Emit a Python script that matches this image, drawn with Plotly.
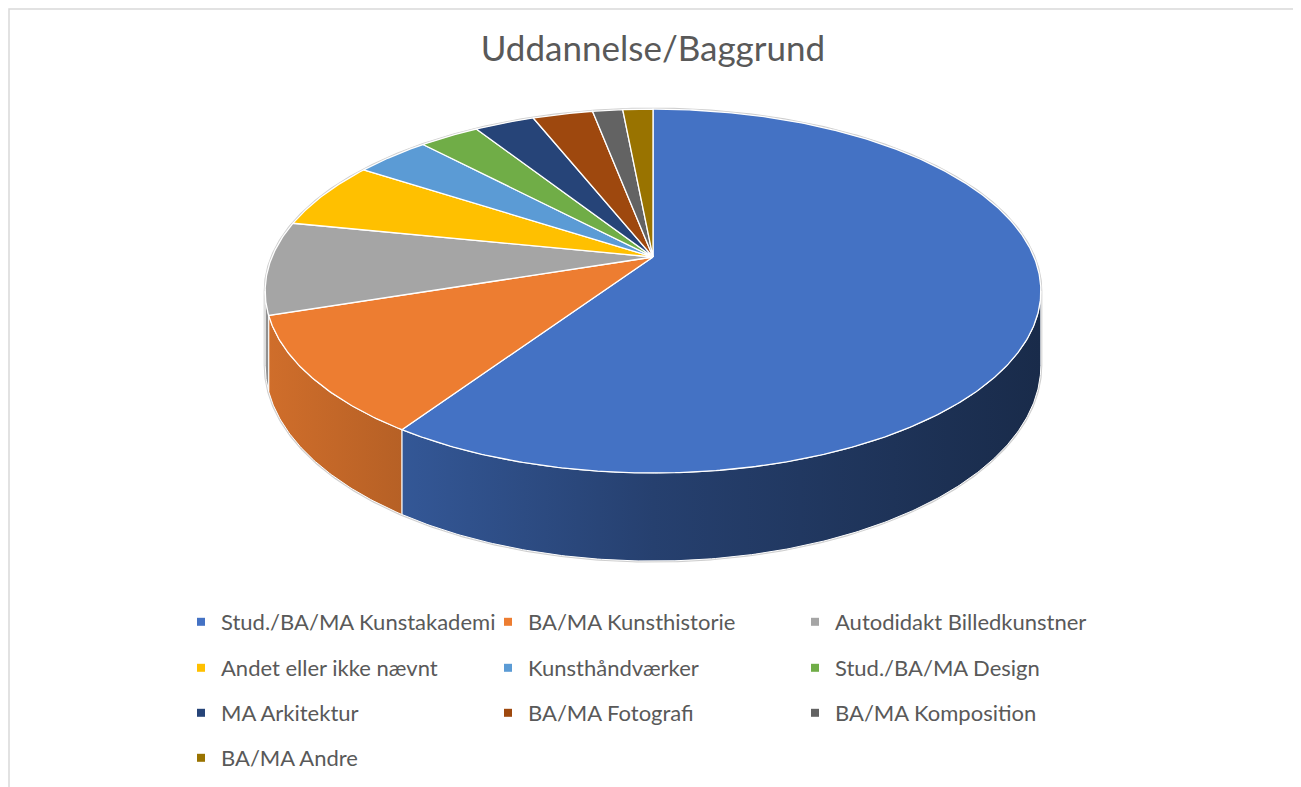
import numpy as np
import plotly.graph_objects as go

# ---------------- data ----------------
categories = ["Stud./BA/MA Kunstakademi", "BA/MA Kunsthistorie", "Autodidakt Billedkunstner",
              "Andet eller ikke nævnt", "Kunsthåndværker", "Stud./BA/MA Design",
              "MA Arkitektur", "BA/MA Fotografi", "BA/MA Komposition", "BA/MA Andre"]
values = [79, 14, 11, 8, 5, 4, 4, 4, 2, 2]
colors = ["#4472C4", "#ED7D31", "#A5A5A5", "#FFC000", "#5B9BD5", "#70AD47",
          "#264478", "#9E480E", "#636363", "#997300"]
title_text = "Uddannelse/Baggrund"

# ---------------- geometry (layout of the 3D pie) ----------------
W, H = 1301, 787
OFF = 8                        # page margin of the html body
CX, CY = 653.0, 257.0          # pie centre on screen
A, B, K = 381.0, 175.6, 0.187  # horizontal / vertical radius, perspective factor
DEPTH = 71.6                   # thickness of the pie
A_EXT = A / np.sqrt(1 - K * K)
VIS0 = np.degrees(np.arccos(-K))   # right silhouette angle (clockwise from top)
VIS1 = 360 - VIS0                  # left silhouette angle


def px(x):
    return (x - OFF) / W


def py(y):
    return 1 - (y - OFF) / H


def top_pt(theta):
    t = np.radians(theta)
    u, v = np.sin(t), -np.cos(t)
    w = 1 - K * v
    return CX + A * u / w, CY + B * v / w, w


def bot_pt(theta):
    x, y, w = top_pt(theta)
    return x, y + DEPTH / w


def shade(hexc, f):
    hexc = hexc.lstrip("#")
    r, g, b = (int(hexc[i:i + 2], 16) for i in (0, 2, 4))
    return "rgb(%d,%d,%d)" % (r * f, g * f, b * f)


def arc(a, b, fn):
    n = max(3, int(abs(b - a) * 2) + 1)
    th = np.linspace(a, b, n)
    xs, ys = [], []
    for t in th:
        p = fn(t)
        xs.append(p[0]); ys.append(p[1])
    return xs, ys


total = float(sum(values))
angles = np.cumsum([0] + [v / total * 360 for v in values])

fig = go.Figure()

# outline of the whole pie (light grey rim)
xo, yo = arc(VIS1 - 360, VIS0, top_pt)
xb, yb = arc(VIS0, VIS1, bot_pt)
fig.add_trace(go.Scatter(x=xo + xb + [xo[0]], y=yo + yb + [yo[0]], mode="lines",
                         line=dict(color="#cfcfcf", width=3), hoverinfo="skip",
                         showlegend=False))

# side walls
for i, (cat, col) in enumerate(zip(categories, colors)):
    a, b = angles[i], angles[i + 1]
    a2, b2 = max(a, VIS0), min(b, VIS1)
    if b2 <= a2:
        continue
    xt, yt = arc(a2, b2, top_pt)
    xbb, ybb = arc(b2, a2, bot_pt)
    fig.add_trace(go.Scatter(
        x=xt + xbb + [xt[0]], y=yt + ybb + [yt[0]], mode="lines", fill="toself",
        fillcolor=shade(col, 0.6),
        fillgradient=dict(type="horizontal", start=CX - A_EXT, stop=CX + A_EXT,
                          colorscale=[[0, shade(col, 0.88)], [0.5, shade(col, 0.57)],
                                      [1, shade(col, 0.38)]]),
        line=dict(color="white", width=1), hoverinfo="skip", showlegend=False))

# top surfaces
for i, (cat, col) in enumerate(zip(categories, colors)):
    a, b = angles[i], angles[i + 1]
    xa, ya = arc(a, b, top_pt)
    fig.add_trace(go.Scatter(
        x=[CX] + xa + [CX], y=[CY] + ya + [CY], mode="lines", fill="toself",
        fillcolor=col, line=dict(color="white", width=1.3),
        name=cat, text=f"{cat}: {values[i]}", hoverinfo="text", showlegend=False))

# legend entries (4 rows of 3)
row_y = [622, 668, 713, 758]
legend_names = ["legend", "legend2", "legend3", "legend4"]
for i, (cat, col) in enumerate(zip(categories, colors)):
    fig.add_trace(go.Scatter(
        x=[None], y=[None], mode="markers", name=cat,
        marker=dict(symbol="square", size=8, color=col),
        legend=legend_names[i // 3], showlegend=True))

layout_legends = {}
for r, ln in enumerate(legend_names):
    layout_legends[ln] = dict(
        orientation="h", x=px(181), xanchor="left", y=py(row_y[r]), yanchor="middle",
        entrywidth=262, entrywidthmode="pixels", itemwidth=30,
        font=dict(family="Lato", size=22, color="#595959"),
        bgcolor="rgba(0,0,0,0)", borderwidth=0, traceorder="normal")

fig.update_layout(
    width=W, height=H,
    margin=dict(l=0, r=0, t=0, b=0),
    paper_bgcolor="white", plot_bgcolor="white",
    title=dict(text=title_text, x=px(653), xanchor="center", y=py(49), yanchor="middle",
               font=dict(family="Lato", size=35, color="#595959")),
    xaxis=dict(range=[OFF, W + OFF], visible=False, fixedrange=True),
    yaxis=dict(range=[H + OFF, OFF], visible=False, fixedrange=True),
    shapes=[dict(type="rect", xref="paper", yref="paper", x0=px(9), x1=px(1297),
                 y0=-0.05, y1=py(9), line=dict(color="#d9d9d9", width=1.5))],
    **layout_legends,
)

fig.write_html("out.html")
